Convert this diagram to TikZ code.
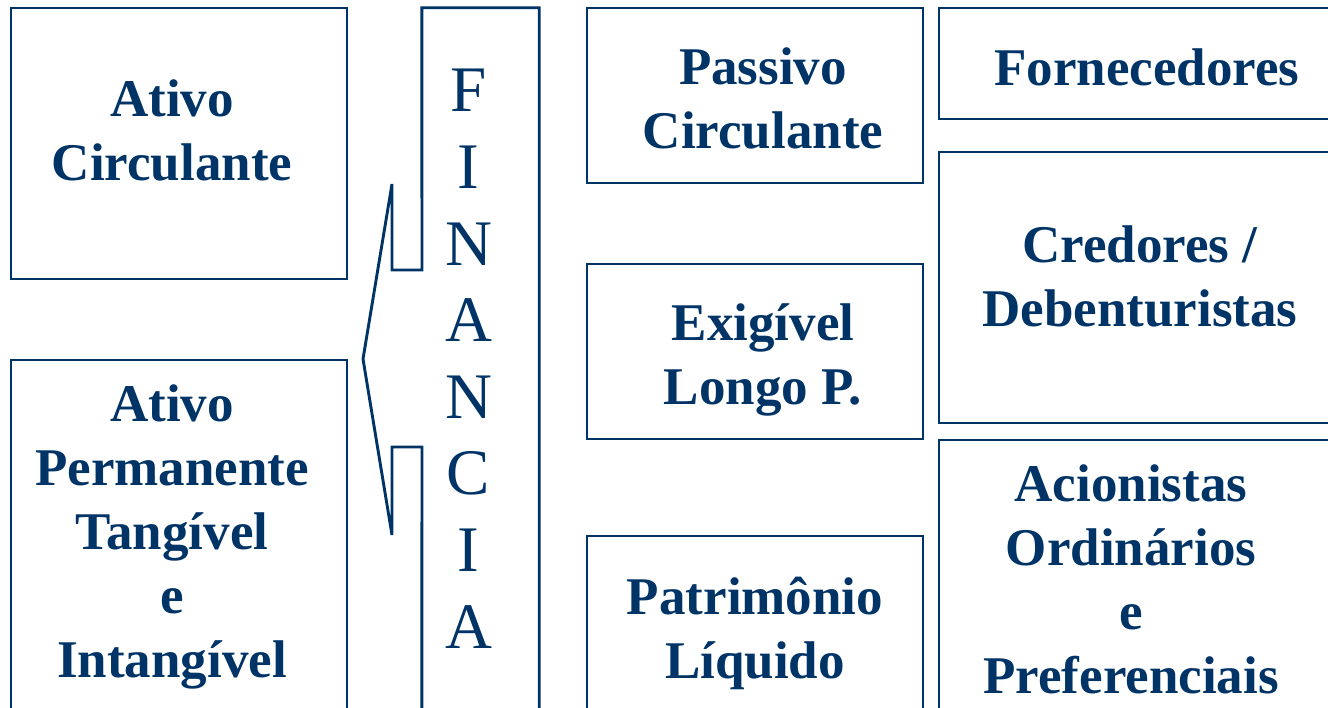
\documentclass[tikz,border=0pt]{standalone}
\usepackage{fontspec}
\setmainfont{Liberation Serif}
\definecolor{navy}{HTML}{003366}
\begin{document}
\begin{tikzpicture}[x=1pt,y=-1pt,
  box/.style={draw=navy, line width=2.9pt, rectangle, inner sep=0pt},
  outline/.style={draw=navy, line width=2.9pt, line join=miter},
  lbl/.style={text=navy, font=\fontsize{53}{64}\selectfont\bfseries, align=center, anchor=base, inner sep=0pt},
  letters/.style={text=navy, font=\fontsize{65}{76.6}\selectfont, align=center, anchor=base, inner sep=0pt}]
\useasboundingbox (0,0) rectangle (1328,708);
\clip (0,0) rectangle (1328,708);
% left boxes
\node[box, minimum width=336pt, minimum height=271pt] (ac) at (179,143.5) {};
\node[box, minimum width=336pt, minimum height=360pt] (ap) at (179,540) {};
% financia column (outline drawn as callout)
\node[inner sep=0pt, minimum width=117pt, minimum height=712pt] (fin) at (480.5,364) {};
\coordinate (tip) at (363,359);
\draw[outline] (fin.south west) -- (422,447) -- (392,447) -- (392,535) -- (tip)
  -- (392,184) -- (392,270) -- (422,270) -- (fin.north west) -- (fin.north east) -- (fin.south east);
% middle boxes
\node[box, minimum width=336pt, minimum height=175pt] (pc) at (755,95.5) {};
\node[box, minimum width=336pt, minimum height=175pt] (el) at (755,351.5) {};
\node[box, minimum width=336pt, minimum height=184pt] (pl) at (755,628) {};
% right boxes
\node[box, minimum width=401pt, minimum height=111pt] (fo) at (1139.5,63.5) {};
\node[box, minimum width=401pt, minimum height=271pt] (cd) at (1139.5,287.5) {};
\node[box, minimum width=401pt, minimum height=280pt] (ao) at (1139.5,580) {};
% labels (anchor base = baseline of last line)
\node[lbl] (tac) at (172,181) {Ativo\\Circulante};
\node[lbl] (tap) at (172,677) {Ativo\\Permanente\\Tangível\\e\\Intangível};
\node[letters] (tfin) at (468.5,648) {F\\I\\N\\A\\N\\C\\I\\A};
\node[lbl] (tpc) at (763,149) {Passivo\\Circulante};
\node[lbl] (tel) at (763,405) {Exigível\\Longo P.};
\node[lbl] (tpl) at (755,678) {Patrimônio\\Líquido};
\node[lbl] (tfo) at (1147,86) {Fornecedores};
\node[lbl] (tcd) at (1140,327) {Credores /\\Debenturistas};
\node[lbl] (tao) at (1131,693) {Acionistas\\Ordinários\\e\\Preferenciais};
\end{tikzpicture}
\end{document}
